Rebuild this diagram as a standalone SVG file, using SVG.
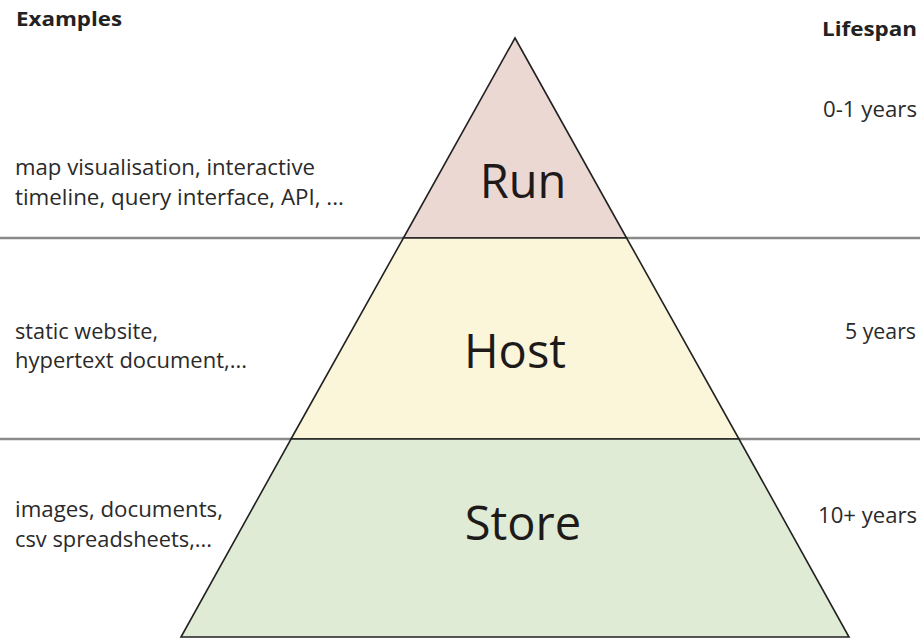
<svg xmlns="http://www.w3.org/2000/svg" width="920" height="639" viewBox="0 0 920 639">
  <style>
    .lbl { font-family: "Open Sans", "Noto Sans", "Liberation Sans", sans-serif; font-size: 21px; fill: #2a2a2a; }
    .hdr { font-family: "Open Sans", "Noto Sans", "Liberation Sans", sans-serif; font-size: 20px; font-weight: bold; fill: #222; }
    .tier { font-family: "Open Sans", "Noto Sans", "Liberation Sans", sans-serif; font-size: 47px; fill: #1e1a1a; text-anchor: middle; }
    .band { stroke: #222; stroke-width: 1.6; stroke-linejoin: miter; }
    .div { stroke: #8a8a8a; stroke-width: 2.5; }
  </style>
  <rect x="0" y="0" width="920" height="639" fill="#ffffff"/>

  <g id="dividers">
    <line class="div" x1="0" y1="238" x2="920" y2="238"/>
    <line class="div" x1="0" y1="439" x2="920" y2="439"/>
  </g>

  <g id="run">
    <polygon class="band" points="515,38 626.6,238 403.4,238" fill="#ecd8d2"/>
    <text class="tier" x="523" y="198">Run</text>
  </g>
  <g id="host">
    <polygon class="band" points="403.4,238 626.6,238 739,439 291,439" fill="#fbf6da"/>
    <text class="tier" x="515" y="368">Host</text>
  </g>
  <g id="store">
    <polygon class="band" points="291,439 739,439 849,637 181,637" fill="#dfebd4"/>
    <text class="tier" x="523" y="540">Store</text>
  </g>

  <g id="headers">
    <text class="hdr" x="16" y="26" textLength="106" lengthAdjust="spacingAndGlyphs">Examples</text>
    <text class="hdr" x="917" y="36" text-anchor="end" textLength="95" lengthAdjust="spacingAndGlyphs">Lifespan</text>
  </g>

  <g id="examples">
    <text class="lbl" x="15" y="175" textLength="300" lengthAdjust="spacingAndGlyphs">map visualisation, interactive</text>
    <text class="lbl" x="15" y="205" textLength="329" lengthAdjust="spacingAndGlyphs">timeline, query interface, API, ...</text>
    <text class="lbl" x="15" y="339" textLength="143" lengthAdjust="spacingAndGlyphs">static website,</text>
    <text class="lbl" x="15" y="368" textLength="232" lengthAdjust="spacingAndGlyphs">hypertext document,...</text>
    <text class="lbl" x="15" y="517" textLength="208" lengthAdjust="spacingAndGlyphs">images, documents,</text>
    <text class="lbl" x="15" y="547" textLength="197" lengthAdjust="spacingAndGlyphs">csv spreadsheets,...</text>
  </g>

  <g id="lifespans">
    <text class="lbl" x="917" y="117" text-anchor="end" textLength="94" lengthAdjust="spacingAndGlyphs">0-1 years</text>
    <text class="lbl" x="916" y="339" text-anchor="end" textLength="71" lengthAdjust="spacingAndGlyphs">5 years</text>
    <text class="lbl" x="917" y="523" text-anchor="end" textLength="99" lengthAdjust="spacingAndGlyphs">10+ years</text>
  </g>
</svg>
